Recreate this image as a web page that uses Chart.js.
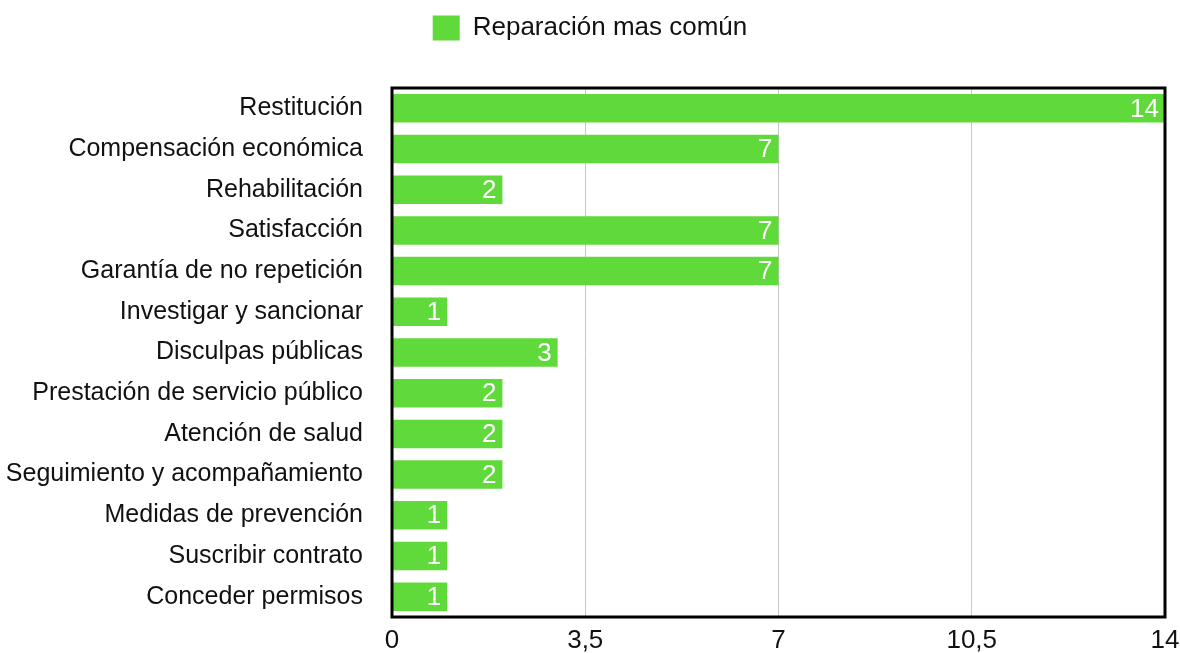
<!DOCTYPE html>
<html lang="es">
<head>
    <meta charset="UTF-8">
    <title>Reparación mas común</title>
    <script src="https://cdn.jsdelivr.net/npm/chart.js"></script>
    <style>
        html, body { margin: 0; padding: 0; background: #fff; }
        .chart-box { width: 1180px; height: 653px; position: relative; }
    </style>
</head>
<body>
    <div class="chart-box">
        <canvas id="repChart"></canvas>
    </div>

    <script>
        const categories = [
            'Restitución',
            'Compensación económica',
            'Rehabilitación',
            'Satisfacción',
            'Garantía de no repetición',
            'Investigar y sancionar',
            'Disculpas públicas',
            'Prestación de servicio público',
            'Atención de salud',
            'Seguimiento y acompañamiento',
            'Medidas de prevención',
            'Suscribir contrato',
            'Conceder permisos'
        ];
        const counts = [14, 7, 2, 7, 7, 1, 3, 2, 2, 2, 1, 1, 1];
        const xTicks = [0, 3.5, 7, 10.5, 14];
        const seriesName = 'Reparación mas común';

        const fontFamily = '"Liberation Sans", Arial, Helvetica, sans-serif';
        const green = '#60d93b';

        // white value labels at the end of each bar
        const barValues = {
            id: 'barValues',
            afterDatasetsDraw(chart) {
                const ctx = chart.ctx;
                ctx.save();
                ctx.font = '26px ' + fontFamily;
                ctx.fillStyle = '#fff';
                ctx.textAlign = 'right';
                ctx.textBaseline = 'middle';
                chart.getDatasetMeta(0).data.forEach((bar, i) => {
                    ctx.fillText(String(counts[i]), bar.x - 6, bar.y + 1);
                });
                ctx.restore();
            }
        };

        // thick black frame round the plot area
        const plotFrame = {
            id: 'plotFrame',
            afterDraw(chart) {
                const a = chart.chartArea;
                const ctx = chart.ctx;
                ctx.save();
                ctx.strokeStyle = '#000';
                ctx.lineWidth = 3;
                ctx.strokeRect(a.left, a.top, a.right - a.left, a.bottom - a.top);
                ctx.restore();
            }
        };

        // extra room under the legend
        const legendGap = {
            id: 'legendGap',
            beforeInit(chart) {
                const fit = chart.legend.fit;
                chart.legend.fit = function () {
                    fit.bind(chart.legend)();
                    this.height += 37;
                };
            }
        };

        new Chart(document.getElementById('repChart'), {
            type: 'bar',
            data: {
                labels: categories,
                datasets: [{
                    label: seriesName,
                    data: counts,
                    backgroundColor: green,
                    borderWidth: 0,
                    barPercentage: 0.7,
                    categoryPercentage: 1
                }]
            },
            options: {
                indexAxis: 'y',
                responsive: true,
                maintainAspectRatio: false,
                animation: false,
                layout: { padding: { top: 5, left: 0, right: 0, bottom: 0 } },
                plugins: {
                    legend: {
                        display: true,
                        position: 'top',
                        labels: {
                            boxWidth: 27,
                            boxHeight: 25,
                            padding: 10,
                            color: '#111',
                            font: { size: 26, family: fontFamily }
                        }
                    },
                    tooltip: { enabled: false }
                },
                scales: {
                    x: {
                        min: 0,
                        max: 14,
                        afterBuildTicks: axis => { axis.ticks = xTicks.map(v => ({ value: v })); },
                        afterFit: axis => {
                            axis.height = 36;
                            axis.paddingRight = 15;
                        },
                        ticks: {
                            color: '#111',
                            padding: 8,
                            font: { size: 26, family: fontFamily },
                            callback: v => String(v).replace('.', ',')
                        },
                        grid: { color: '#c8c8c8', lineWidth: 1, drawTicks: false },
                        border: { display: false }
                    },
                    y: {
                        afterFit: axis => {
                            axis.width = 392;
                            axis.paddingTop = 0;
                            axis.paddingBottom = 0;
                        },
                        ticks: {
                            color: '#111',
                            padding: 29,
                            font: { size: 25, family: fontFamily }
                        },
                        grid: { display: false, drawTicks: false },
                        border: { display: false }
                    }
                }
            },
            plugins: [barValues, plotFrame, legendGap]
        });
    </script>
</body>
</html>
